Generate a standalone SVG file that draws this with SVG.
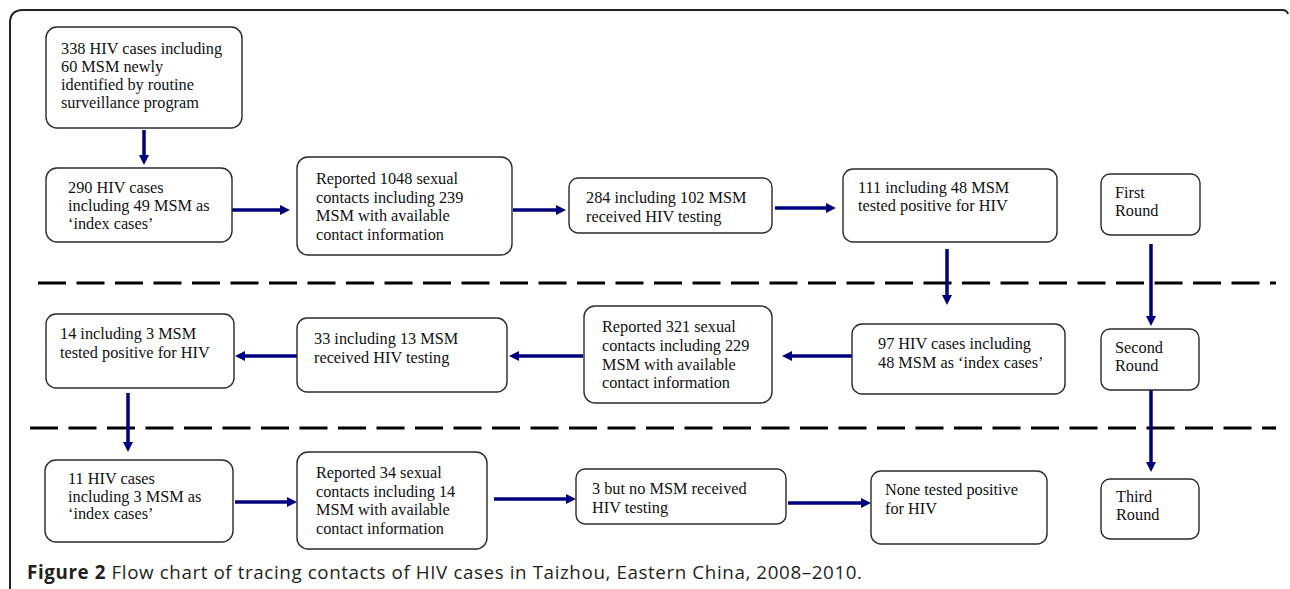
<svg xmlns="http://www.w3.org/2000/svg" width="1290" height="589" viewBox="0 0 1290 589">
<style>
.box{fill:#fff;stroke:#2a2a2a;stroke-width:1.4}
.t{font-family:"Liberation Serif","Times New Roman",serif;font-size:16.3px;fill:#111}
.con{stroke:#00007f;stroke-width:3.5;fill:none}
.dash{stroke:#000;stroke-width:3.2;stroke-dasharray:28 10.5;fill:none}
.cap{font-family:"Open Sans","Noto Sans",sans-serif;font-size:18.8px;fill:#231f20}
</style>
<defs>
<marker id="ah" viewBox="0 -5 10 10" refX="0" refY="0" markerWidth="10" markerHeight="10" markerUnits="userSpaceOnUse" orient="auto">
<path d="M0,-5 L10,0 L0,5 z" fill="#00007f"/>
</marker>
</defs>
<path d="M10,589 V23 Q10,10 23,10 H1282 Q1287,10 1288,14" fill="none" stroke="#222" stroke-width="2"/>
<g id="dividers">
<line class="dash" x1="38" y1="283" x2="1276" y2="283"/>
<line class="dash" x1="30" y1="428" x2="1276" y2="428"/>
</g>
<g id="connectors">
<line class="con" x1="144" y1="130" x2="144" y2="155" marker-end="url(#ah)"/>
<line class="con" x1="226" y1="210" x2="280" y2="210" marker-end="url(#ah)"/>
<line class="con" x1="513" y1="210" x2="556" y2="210" marker-end="url(#ah)"/>
<line class="con" x1="775" y1="208" x2="826" y2="208" marker-end="url(#ah)"/>
<line class="con" x1="947" y1="249" x2="947" y2="295" marker-end="url(#ah)"/>
<line class="con" x1="1151" y1="244" x2="1151" y2="316" marker-end="url(#ah)"/>
<line class="con" x1="853" y1="356" x2="792" y2="356" marker-end="url(#ah)"/>
<line class="con" x1="583" y1="356" x2="519" y2="356" marker-end="url(#ah)"/>
<line class="con" x1="300" y1="356" x2="245" y2="356" marker-end="url(#ah)"/>
<line class="con" x1="128" y1="393" x2="128" y2="442" marker-end="url(#ah)"/>
<line class="con" x1="235" y1="502" x2="287" y2="502" marker-end="url(#ah)"/>
<line class="con" x1="494" y1="499" x2="566" y2="499" marker-end="url(#ah)"/>
<line class="con" x1="788" y1="503" x2="861" y2="503" marker-end="url(#ah)"/>
<line class="con" x1="1151" y1="390" x2="1151" y2="462" marker-end="url(#ah)"/>
</g>
<g id="n1"><rect class="box" x="46" y="27" width="196" height="101" rx="11"/>
<text class="t"><tspan x="61" y="54">338 HIV cases including</tspan><tspan x="61" y="72">60 MSM newly</tspan><tspan x="61" y="90">identified by routine</tspan><tspan x="61" y="108">surveillance program</tspan></text></g>
<g id="n2"><rect class="box" x="46" y="168" width="186" height="74" rx="11"/>
<text class="t"><tspan x="68" y="193">290 HIV cases</tspan><tspan x="68" y="211">including 49 MSM as</tspan><tspan x="68" y="229">‘index cases’</tspan></text></g>
<g id="n3"><rect class="box" x="297" y="157" width="215" height="98" rx="11"/>
<text class="t"><tspan x="316" y="184">Reported 1048 sexual</tspan><tspan x="316" y="202.5">contacts including 239</tspan><tspan x="316" y="221">MSM with available</tspan><tspan x="316" y="239.5">contact information</tspan></text></g>
<g id="n4"><rect class="box" x="569" y="178" width="203" height="55" rx="9"/>
<text class="t"><tspan x="586" y="203">284 including 102 MSM</tspan><tspan x="586" y="222">received HIV testing</tspan></text></g>
<g id="n5"><rect class="box" x="843" y="169" width="214" height="73" rx="10"/>
<text class="t"><tspan x="858" y="192.5">111 including 48 MSM</tspan><tspan x="858" y="211">tested positive for HIV</tspan></text></g>
<g id="r1"><rect class="box" x="1101" y="174" width="99" height="61" rx="9"/>
<text class="t"><tspan x="1115" y="198">First</tspan><tspan x="1115" y="216">Round</tspan></text></g>
<g id="n6"><rect class="box" x="46" y="314" width="188" height="74" rx="10"/>
<text class="t"><tspan x="60" y="339">14 including 3 MSM</tspan><tspan x="60" y="357.5">tested positive for HIV</tspan></text></g>
<g id="n7"><rect class="box" x="297" y="318" width="210" height="74" rx="10"/>
<text class="t"><tspan x="314" y="344">33 including 13 MSM</tspan><tspan x="314" y="362.5">received HIV testing</tspan></text></g>
<g id="n8"><rect class="box" x="584" y="306" width="188" height="97" rx="11"/>
<text class="t"><tspan x="602" y="332">Reported 321 sexual</tspan><tspan x="602" y="351">contacts including 229</tspan><tspan x="602" y="370">MSM with available</tspan><tspan x="602" y="388">contact information</tspan></text></g>
<g id="n9"><rect class="box" x="852" y="324" width="213" height="70" rx="10"/>
<text class="t"><tspan x="878" y="349">97 HIV cases including</tspan><tspan x="878" y="367.5">48 MSM as ‘index cases’</tspan></text></g>
<g id="r2"><rect class="box" x="1101" y="329" width="98" height="61" rx="9"/>
<text class="t"><tspan x="1115" y="353">Second</tspan><tspan x="1115" y="371">Round</tspan></text></g>
<g id="n10"><rect class="box" x="45" y="460" width="188" height="82" rx="11"/>
<text class="t"><tspan x="68" y="484">11 HIV cases</tspan><tspan x="68" y="502">including 3 MSM as</tspan><tspan x="68" y="519">‘index cases’</tspan></text></g>
<g id="n11"><rect class="box" x="297" y="452" width="190" height="97" rx="11"/>
<text class="t"><tspan x="316" y="478">Reported 34 sexual</tspan><tspan x="316" y="496.5">contacts including 14</tspan><tspan x="316" y="515">MSM with available</tspan><tspan x="316" y="533.5">contact information</tspan></text></g>
<g id="n12"><rect class="box" x="576" y="469" width="210" height="55" rx="9"/>
<text class="t"><tspan x="592" y="494">3 but no MSM received</tspan><tspan x="592" y="512.5">HIV testing</tspan></text></g>
<g id="n13"><rect class="box" x="871" y="471" width="176" height="73" rx="10"/>
<text class="t"><tspan x="885" y="495">None tested positive</tspan><tspan x="885" y="513.5">for HIV</tspan></text></g>
<g id="r3"><rect class="box" x="1101" y="479" width="98" height="60" rx="9"/>
<text class="t"><tspan x="1116" y="502">Third</tspan><tspan x="1116" y="520">Round</tspan></text></g>
<text class="cap" x="27" y="579" textLength="835"><tspan font-weight="bold">Figure 2</tspan> Flow chart of tracing contacts of HIV cases in Taizhou, Eastern China, 2008–2010.</text>
</svg>
